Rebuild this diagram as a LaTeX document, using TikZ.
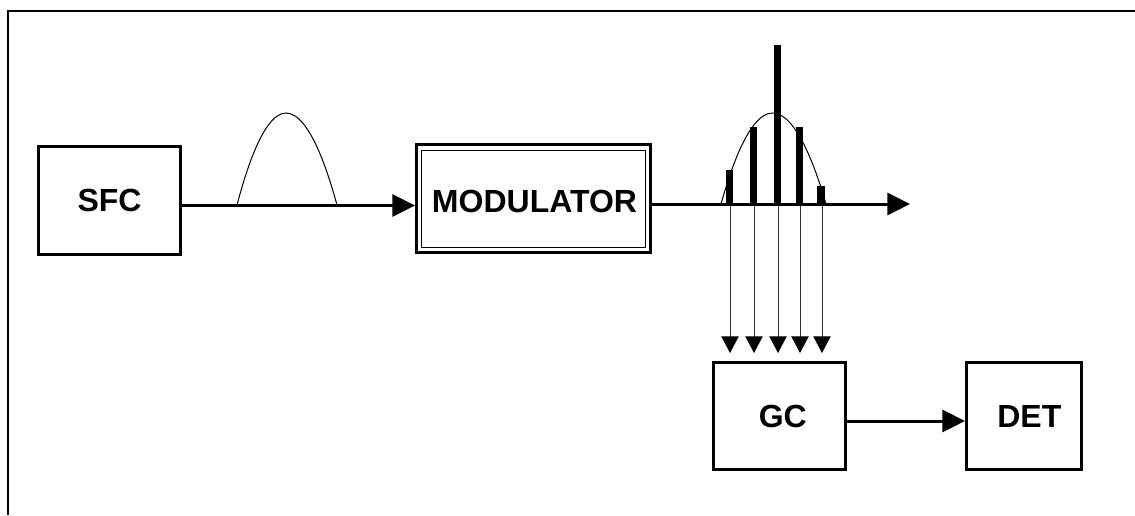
\documentclass[tikz,border=0pt]{standalone}
\usepackage{fontspec}
\setmainfont{Liberation Sans}
\usetikzlibrary{arrows.meta,calc}
\begin{document}
\begin{tikzpicture}[x=0.75pt,y=-0.75pt,
  lbl/.style={font=\bfseries\fontsize{24}{28}\selectfont},
  box/.style={draw,line width=2.25pt,minimum width=#1,inner sep=0pt,lbl},
  innerbox/.style={draw,line width=0.75pt,minimum width=168pt,minimum height=72.75pt,inner sep=0pt},
  flow/.style={line width=2.25pt,-{Triangle[length=17pt,width=16.5pt]}},
  drop/.style={line width=0.7pt,black!80,-{Triangle[length=12.5pt,width=13pt,color=black,fill=black]}},
  pulse/.style={line width=0.75pt},
  frame/.style={line width=1.1pt}]
\useasboundingbox (0,0) rectangle (1135,515);
% frame (top and left edges)
\draw[frame] (8,515) -- (8,11) -- (1135,11);
% boxes
\node[box=106.5pt,minimum height=81pt] (sfc) at (109.5,200) {SFC};
\node[box=175.5pt,minimum height=81pt] (mod) at (533.5,198.5) {};
\node[innerbox] (modin) at (533,198.5) {};
\node[lbl] (modtxt) at (534.5,201) {MODULATOR};
\node[box=99pt,minimum height=80.25pt] (gc) at (779.5,416) {\hspace*{5pt}GC};
\node[box=86.25pt,minimum height=80.25pt] (det) at (1024,416) {\hspace*{8pt}DET};
% connectors
\draw[flow] (sfc.east |- 0,205.5) -- (mod.west |- 0,205.5);
\coordinate (out) at (910,204);
\draw[flow] (mod.east |- out) -- (out);
\draw[flow] (gc.east |- 0,421) -- (det.west |- 0,421);
% pulses
\draw[pulse] (237,205) parabola bend (286,113) (337,205);
\draw[pulse] (721,204) parabola bend (772.5,113) (826,204);
% bars
\foreach \x/\t in {729.5/170, 753.5/127, 777.5/45, 799.5/127, 821/186}
  \fill (\x-3.7,\t) rectangle (\x+3.7,204);
% drop arrows into GC
\foreach \x [count=\i] in {730,754,778,800,822} {
  \coordinate (s\i) at (\x,206);
  \coordinate (e\i) at (\x,353);
  \draw[drop] (s\i) -- (e\i);
}
\end{tikzpicture}
\end{document}
